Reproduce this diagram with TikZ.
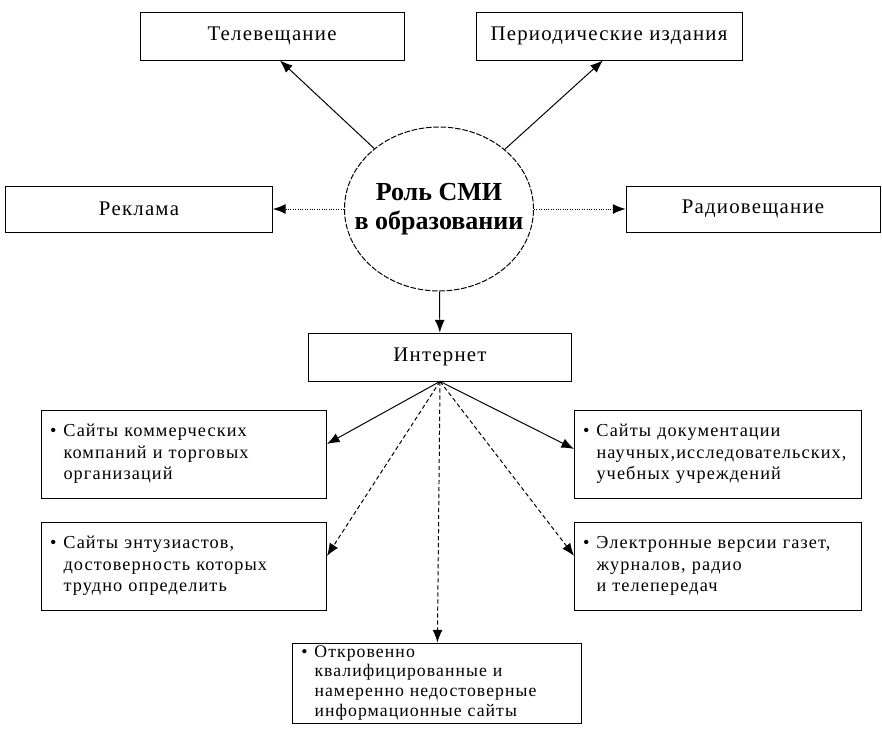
\documentclass[tikz,border=0pt]{standalone}
\usepackage{fontspec}
\setmainfont{Liberation Serif}
\newfontfamily\boxfont[LetterSpace=6]{Liberation Serif}
\usetikzlibrary{shapes.geometric,positioning,arrows.meta}
\newlength\pxu
\setlength\pxu{0.025cm}

\begin{document}
\begin{tikzpicture}[x=1\pxu, y=-1\pxu,
    box/.style={draw, line width=0.6pt, rectangle, inner sep=0pt, text centered},
    headbox/.style={box, font=\boxfont\fontsize{14.8}{17}\selectfont},
    sitebox/.style={draw, line width=0.6pt, rectangle, align=left, inner xsep=22\pxu, inner ysep=0pt,
        font=\boxfont\fontsize{13}{15.3}\selectfont},
    link/.style={line width=0.7pt, -{Latex[length=9pt,width=7pt]}}]
    \useasboundingbox (0,0) rectangle (882,734);

    \node (role) [draw, dash pattern=on 4pt off 1.2pt, line width=0.7pt, ellipse, minimum width=189\pxu,
    minimum height=164\pxu, inner sep=0pt,
    label={[align=center, font=\bfseries\fontsize{18.5}{21}\selectfont]center:Роль СМИ\\в образовании}]
    at (439,209) {};

    \node (tv) [headbox, minimum width=264\pxu, minimum height=48\pxu] at (272,36) {Телевещание};
    \node (press) [headbox, minimum width=266\pxu, minimum height=48\pxu] at (609,36) {Периодические издания};
    \node (ads) [headbox, minimum width=267\pxu, minimum height=46\pxu] at (139,209) {Реклама};
    \node (radio) [headbox, minimum width=254\pxu, minimum height=46\pxu] at (753,209) {Радиовещание};

    \node (web) [headbox, minimum width=263\pxu, minimum height=48\pxu] at (440,357) {Интернет};

    \node (shops) [sitebox, text width=241\pxu, minimum height=88\pxu] at (184,454)
    {\llap{\textbullet\hspace{5pt}}Сайты коммерческих\\компаний и торговых\\организаций};
    \node (fans) [sitebox, text width=241\pxu, minimum height=88\pxu] at (184,566)
    {\llap{\textbullet\hspace{5pt}}Сайты энтузиастов,\\достоверность которых\\трудно определить};
    \node (science) [sitebox, text width=243\pxu, minimum height=88\pxu] at (718,454)
    {\llap{\textbullet\hspace{5pt}}Сайты документации\\научных,исследовательских,\\учебных учреждений};
    \node (media) [sitebox, text width=243\pxu, minimum height=88\pxu] at (718,566)
    {\llap{\textbullet\hspace{5pt}}Электронные версии газет,\\журналов, радио\\и телепередач};
    \node (fakes) [sitebox, font=\boxfont\fontsize{12.6}{14.2}\selectfont, text width=245\pxu,
    minimum height=80\pxu] at (437,683)
    {\llap{\textbullet\hspace{5pt}}Откровенно\\квалифицированные и\\намеренно недостоверные\\информационные сайты};

    % from the centre
    \draw [link] (role) -- (tv.-72);
    \draw [link] (role) -- (press.-104);
    \draw [link, densely dotted] (role) -- (ads);
    \draw [link, densely dotted] (role) -- (radio);
    \draw [link] (role) -- (web);

    % from the internet box
    \draw [link] (web.south) -- (shops.4);
    \draw [link, densely dashed] (web.south) -- (fans.4);
    \draw [link] (web.south) -- (science.178);
    \draw [link, densely dashed] (web.south) -- (media.176);
    \draw [link, densely dashed] (web.south) -- (fakes);
\end{tikzpicture}
\end{document}
